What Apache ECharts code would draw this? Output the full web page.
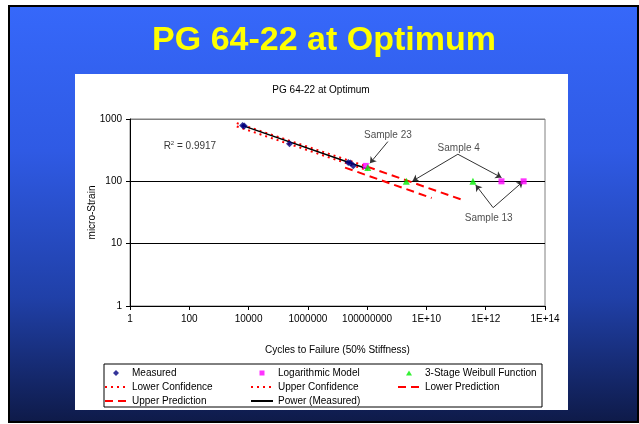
<!DOCTYPE html>
<html>
<head>
<meta charset="utf-8">
<script src="https://cdn.jsdelivr.net/npm/echarts@6/dist/echarts.min.js"></script>
<style>
  html, body { margin: 0; padding: 0; background: #fff; }
  #chart { width: 639px; height: 424px; }
</style>
</head>
<body>
<div id="chart"></div>
<script>
// values: [cycles, micro-strain]
var measured = [[6300, 790], [7200, 770], [240000, 400], [2.3e7, 200], [2.7e7, 196], [3.4e7, 178]];
var logModel = [[9e7, 177], [3.4e12, 100], [1.9e13, 100]];
var weibull = [[1.05e8, 166], [2.1e9, 100], [3.7e11, 100]];
var powerFit = [[6000, 790], [1.05e8, 158]];
var lowerConf = [[4000, 760], [1.05e8, 150]];
var upperConf = [[4000, 860], [1e8, 172]];
var lowerPred = [[1.8e7, 166], [1.5e10, 54]];
var upperPred = [[1e8, 172], [1.7e11, 50]];

// annotation texts and arrows
var notes = [
  { name: 'Sample 23', value: [5e8, 556] },
  { name: 'Sample 4', value: [1.23e11, 344] },
  { name: 'Sample 13', value: [1.26e12, 25.9] }
];
var arrows = [
  [[5e8, 434], [1.24e8, 195]],
  [[1.15e11, 272], [3.4e9, 101]],
  [[1.15e11, 272], [3.4e12, 115]],
  [[1.78e12, 37.8], [4.6e11, 87.5]],
  [[1.78e12, 37.8], [1.8e13, 99]]
];
var r2Label = { text: '0.9917', value: [105, 370] };

var FONT = '"Liberation Sans", Arial, sans-serif';

// small legend markers centred in a 22x7 box (the zero-length bits fix the box)
var BOX = 'M0,0L0,0M22,7L22,7';
var ICON_DIAMOND = 'path://' + BOX + 'M11,0.5L14,3.5L11,6.5L8,3.5Z';
var ICON_SQUARE = 'path://' + BOX + 'M8.5,1L13.5,1L13.5,6L8.5,6Z';
var ICON_TRIANGLE = 'path://' + BOX + 'M11,1L14,6L8,6Z';
var noMarker = { opacity: 0 };

function powLabel(v) {
  var e = Math.round(Math.log10(v));
  if (e <= 8) return '1' + '0'.repeat(e);
  return '1E+' + e;
}

var legendBase = {
  orient: 'vertical', top: 366, padding: 0, itemGap: 0,
  itemWidth: 22, itemHeight: 7,
  textStyle: { fontSize: 10, color: '#000', lineHeight: 14, fontFamily: FONT }
};

var chart = echarts.init(document.getElementById('chart'));

var option = {
  animation: false,
  backgroundColor: '#ffffff',
  textStyle: { fontFamily: FONT },
  graphic: [
    {
      type: 'rect', z: -10,
      shape: { x: 9, y: 6, width: 629, height: 416 },
      style: {
        fill: {
          type: 'linear', x: 0, y: 0, x2: 0, y2: 1,
          colorStops: [
            { offset: 0, color: '#3668fa' },
            { offset: 0.35, color: '#2f5ae4' },
            { offset: 0.7, color: '#2040a8' },
            { offset: 1, color: '#0e1a48' }
          ]
        },
        stroke: '#000000', lineWidth: 2
      }
    },
    {
      type: 'rect', z: -9,
      shape: { x: 75, y: 74, width: 493, height: 336 },
      style: { fill: '#ffffff' }
    },
    {
      type: 'rect', z: -8,
      shape: { x: 104, y: 364, width: 438, height: 43 },
      style: { fill: 'none', stroke: '#000000', lineWidth: 1 }
    },
    {
      type: 'text', z: 5,
      x: 324, y: 41,
      style: {
        text: 'PG 64-22 at Optimum',
        fill: '#ffff00',
        font: 'bold 34px ' + FONT,
        textAlign: 'center', textVerticalAlign: 'middle',
        shadowColor: '#101830', shadowOffsetX: 2, shadowOffsetY: 2, shadowBlur: 0
      }
    },
    {
      type: 'text', z: 5,
      x: 321, y: 90,
      style: {
        text: 'PG 64-22 at Optimum',
        fill: '#000000',
        font: '10px ' + FONT,
        textAlign: 'center', textVerticalAlign: 'middle'
      }
    }
  ],
  grid: {
    left: 130, top: 119, right: 94, bottom: 118,
    show: true, borderColor: '#808080', borderWidth: 1, backgroundColor: 'transparent'
  },
  legend: [
    Object.assign({}, legendBase, {
      left: 104,
      data: [
        { name: 'Measured', icon: ICON_DIAMOND },
        { name: 'Lower Confidence', itemStyle: noMarker },
        { name: 'Upper Prediction', itemStyle: noMarker }
      ]
    }),
    Object.assign({}, legendBase, {
      left: 250,
      data: [
        { name: 'Logarithmic Model', icon: ICON_SQUARE },
        { name: 'Upper Confidence', itemStyle: noMarker },
        { name: 'Power (Measured)', itemStyle: noMarker }
      ]
    }),
    Object.assign({}, legendBase, {
      left: 397,
      data: [
        { name: '3-Stage Weibull Function', icon: ICON_TRIANGLE },
        { name: 'Lower Prediction', itemStyle: noMarker }
      ]
    })
  ],
  xAxis: {
    type: 'log', logBase: 10, min: 1, max: 1e14, interval: 2,
    name: 'Cycles to Failure (50% Stiffness)',
    nameLocation: 'middle', nameGap: 39, nameMoveOverlap: false,
    nameTextStyle: { fontSize: 10, color: '#000', fontFamily: FONT },
    axisLine: { lineStyle: { color: '#000', width: 1 } },
    axisTick: { show: true, length: 4, lineStyle: { color: '#000' } },
    axisLabel: { fontSize: 10, color: '#000', margin: 8, formatter: powLabel, fontFamily: FONT },
    splitLine: { show: false },
    minorTick: { show: false }
  },
  yAxis: {
    type: 'log', logBase: 10, min: 1, max: 1000, interval: 1,
    name: 'micro-Strain',
    nameLocation: 'middle', nameGap: 33, nameMoveOverlap: false,
    nameTextStyle: { fontSize: 10, color: '#000', fontFamily: FONT },
    axisLine: { show: true, lineStyle: { color: '#000', width: 1 } },
    axisTick: { show: true, length: 4, lineStyle: { color: '#000' } },
    axisLabel: { fontSize: 10, color: '#000', margin: 8, formatter: powLabel, fontFamily: FONT },
    splitLine: { show: true, lineStyle: { color: ['#000000', '#000000', '#000000', '#808080'], width: 1 } }
  },
  series: [
    {
      name: 'Lower Confidence', type: 'line', data: lowerConf, symbol: 'none',
      color: '#ff0000', lineStyle: { color: '#ff0000', width: 2, type: [2, 4] }, z: 3
    },
    {
      name: 'Upper Confidence', type: 'line', data: upperConf, symbol: 'none',
      color: '#ff0000', lineStyle: { color: '#ff0000', width: 2, type: [2, 4] }, z: 3
    },
    {
      name: 'Lower Prediction', type: 'line', data: lowerPred, symbol: 'none',
      color: '#ff0000', lineStyle: { color: '#ff0000', width: 2, type: [8, 5] }, z: 3
    },
    {
      name: 'Upper Prediction', type: 'line', data: upperPred, symbol: 'none',
      color: '#ff0000', lineStyle: { color: '#ff0000', width: 2, type: [8, 5] }, z: 3
    },
    {
      name: 'Power (Measured)', type: 'line', data: powerFit, symbol: 'none',
      color: '#000000', lineStyle: { color: '#000000', width: 1.5 }, z: 4
    },
    {
      name: 'Measured', type: 'scatter', data: measured, symbol: 'diamond', symbolSize: 7,
      color: '#000080', itemStyle: { color: '#000080' }, z: 5
    },
    {
      name: 'Logarithmic Model', type: 'scatter', data: logModel, symbol: 'rect', symbolSize: 6,
      color: '#ff00ff', itemStyle: { color: '#ff00ff' }, z: 5
    },
    {
      name: '3-Stage Weibull Function', type: 'scatter', data: weibull, symbol: 'triangle', symbolSize: 7,
      color: '#00ee00', itemStyle: { color: '#00ee00' }, z: 6,
      markLine: {
        silent: true, symbol: ['none', 'arrow'], symbolSize: 6,
        label: { show: false },
        lineStyle: { color: '#333333', width: 1, type: 'solid' },
        emphasis: { disabled: true },
        data: arrows.map(function (a) { return [{ coord: a[0] }, { coord: a[1] }]; })
      }
    },
    {
      name: 'notes', type: 'scatter', silent: true, symbolSize: 0,
      data: notes,
      label: { show: true, position: 'inside', formatter: '{b}', color: '#222', fontSize: 10, fontFamily: FONT }
    },
    {
      name: 'r2', type: 'scatter', silent: true, symbolSize: 0,
      data: [r2Label.value],
      label: {
        show: true, position: 'inside',
        formatter: '{r|R}{s|2}{r| = ' + r2Label.text + '}',
        rich: {
          r: { fontSize: 10, color: '#000', fontFamily: FONT, lineHeight: 12 },
          s: { fontSize: 6, color: '#000', fontFamily: FONT, verticalAlign: 'top', lineHeight: 12 }
        }
      }
    }
  ]
};

chart.setOption(option);
window.addEventListener('resize', function () {
  chart.resize();
});
</script>
</body>
</html>
